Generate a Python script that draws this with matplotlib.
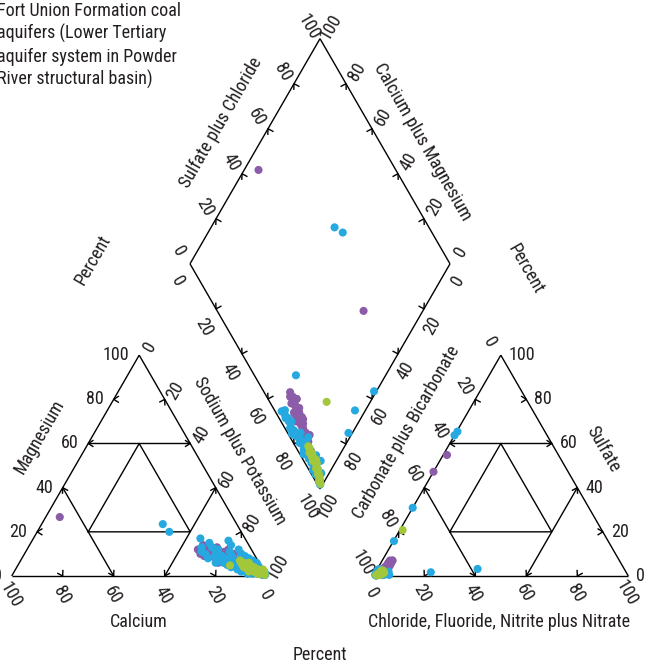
import matplotlib
matplotlib.use("Agg")
import matplotlib.pyplot as plt
import numpy as np
from matplotlib import font_manager

# ---------------------------------------------------------------- fonts
_available = {f.name for f in font_manager.fontManager.ttflist}
FONT = "Liberation Sans"
for fam in ["Liberation Sans Narrow", "Roboto Condensed", "Liberation Sans"]:
    if fam in _available:
        FONT = fam
        break
plt.rcParams["font.family"] = [FONT, "DejaVu Sans"]

# ---------------------------------------------------------------- data
# Milliequivalent percentages per sample: magnesium, sodium+potassium,
# sulfate, chloride(+fluoride+nitrite+nitrate). Calcium and carbonate+
# bicarbonate are the remainders to 100.
purple_mg = [26.7, 8.0,
             14, 13, 12, 11, 12, 10, 9, 11, 8, 9, 7, 10, 8, 6, 7, 9, 5, 6, 13,
             12, 10, 8, 7, 11, 9, 6, 5, 4, 10, 12, 13, 11, 9, 8, 7, 6]
purple_nak = [5.5, 77.2,
              68, 70, 71, 73, 75, 72, 74, 78, 76, 80, 79, 82, 83, 81, 85, 77,
              84, 87, 74, 79, 85, 86, 89, 76, 71, 78, 90, 88, 69, 67, 72, 70,
              75, 79, 82, 84]
purple_so4 = [47.2, 54.8,
              6, 5, 7, 4, 6, 5, 4, 5, 3, 4, 3, 4, 3, 4, 2, 5, 3, 2, 6, 4, 3, 2,
              2, 5, 7, 4, 2, 2, 6, 7, 5, 6, 4, 5, 3, 4]
purple_cl = [0.0, 1.5,
             3, 3, 4, 3, 3, 4, 3, 4, 3, 3, 4, 3, 3, 2.5, 3, 4, 3, 2.5, 4, 3, 3,
             3, 2.5, 3, 4, 3, 2.5, 3, 4, 3, 4, 3, 4, 3, 3, 4]

cyan_mg = [23.5, 20.0, 17.0, 0.5, 0.5, 1.5,
           15, 16, 13, 12, 14, 10, 11, 9, 12, 8, 10, 7, 9, 6, 8, 5, 7, 4, 6, 3,
           5, 2, 4, 3, 2, 1, 2, 1, 0.5, 1.5, 11, 13, 8, 6, 4, 3, 2, 9, 7, 5,
           10, 12, 9, 7, 5, 4, 3, 2, 1, 0.5, 6, 8, 3, 1, 2]
cyan_nak = [47.5, 51.8, 65.5, 99.1, 98.5, 96.0,
            70, 77, 72, 74, 79, 76, 80, 78, 83, 81, 85, 84, 87, 86, 89, 88, 91,
            90, 93, 92, 94, 93, 95, 96, 97, 96, 98, 99, 99, 97, 69, 68, 73, 80,
            84, 89, 91, 82, 87, 92,
            71, 75, 75, 78, 82, 86, 87, 89, 94, 98, 77, 79, 94, 92, 95]
cyan_so4 = [63.7, 65.4, 15.8, 3.2, 1.7, 30.9,
            2, 1, 3, 1, 2, 0.5, 1, 2, 1, 0.5, 1.5, 2, 1, 0.5, 1, 2, 0.5, 1,
            0.5, 1, 0.5, 2, 1, 0.5, 1, 0.5, 0.3, 0.5, 0.2, 1, 3, 2, 1, 2, 1,
            0.5, 1, 1.5, 0.5, 1,
            2, 1, 0.5, 1.5, 1, 0.5, 1, 2, 0.5, 0.3, 1, 2.5, 1, 0.5, 1]
cyan_cl = [0.0, 0.3, 0.2, 39.3, 21.7, 0.0,
           1, 2, 0.5, 3, 1, 2, 4, 1, 2, 3, 1, 5, 2, 1, 3, 1, 2, 4, 1, 2, 6, 1,
           2, 3, 1, 2, 1, 0.5, 1, 3, 1, 0.5, 2, 1, 4, 2, 5, 1, 3, 2,
           0.5, 1, 2, 0.5, 1.5, 1, 2, 0.5, 3, 1, 0.5, 1, 2, 4, 0.5]

green_mg = [4.8,
            7, 6, 5, 6, 4, 5, 3, 4, 2, 3, 1.5, 2, 1, 3, 4, 2, 1, 0.5, 5, 3, 6,
            4, 2, 1, 3]
green_nak = [83.2,
             86, 87, 88, 90, 89, 91, 91, 93, 92, 94, 95, 96, 97, 95, 92, 98,
             98, 99, 89, 93, 88, 90, 94, 96, 97]
green_so4 = [20.8,
             2, 1.5, 2.5, 1, 2, 1, 1.5, 2, 1, 1, 1.5, 0.5, 1, 1.5, 2, 0.5, 0.5,
             0.3, 2.5, 1, 2, 1.5, 1, 0.5, 1]
green_cl = [1.1,
            3, 3.5, 2, 3, 2.5, 3, 2, 2.5, 3, 2, 2, 2.5, 1.5, 2, 3, 1.5, 1,
            1, 2.5, 3, 2, 3, 2.5, 2, 1.5]

groups = [
    ("#8b5ca7", purple_mg, purple_nak, purple_so4, purple_cl),
    ("#25a9e0", cyan_mg, cyan_nak, cyan_so4, cyan_cl),
    ("#a3c73a", green_mg, green_nak, green_so4, green_cl),
]

tick_values = [0, 20, 40, 60, 80, 100]

# ---------------------------------------------------------------- layout
W, HPX = 653, 665
H = np.sqrt(3) / 2
S = 255.0            # side of the ternary triangles
BASE_Y = 576.0       # common base line of the triangles
LT_X0 = 11.7         # left corner of the cation triangle
RT_X0 = 373.3        # left corner of the anion triangle
D = 260.0            # side of the central diamond
DB = (320.0, 489.0)  # bottom vertex of the diamond


def lt(mg, nak):
    mg = np.asarray(mg, float) / 100
    nak = np.asarray(nak, float) / 100
    return LT_X0 + S * (nak + 0.5 * mg), BASE_Y - S * H * mg


def rt(so4, cl):
    so4 = np.asarray(so4, float) / 100
    cl = np.asarray(cl, float) / 100
    return RT_X0 + S * (cl + 0.5 * so4), BASE_Y - S * H * so4


def dm(camg, so4cl):
    u = np.asarray(camg, float) / 100
    v = np.asarray(so4cl, float) / 100
    return DB[0] + D * 0.5 * (v - u), DB[1] - D * H * (u + v)


fig = plt.figure(figsize=(W / 100, HPX / 100), dpi=100)
ax = fig.add_axes([0, 0, 1, 1])
ax.set_xlim(0, W)
ax.set_ylim(HPX, 0)
ax.axis("off")

LW = 1.0
FS = 13


def seg(p, q):
    ax.plot([p[0], q[0]], [p[1], q[1]], color="black", lw=LW,
            solid_capstyle="butt", zorder=1)


def chevron(tip, d, L=5.5, ang=32):
    d = np.asarray(d, float)
    d = d / np.hypot(*d)
    pts = []
    for a in (ang, -ang):
        r = np.radians(a)
        rd = np.array([d[0] * np.cos(r) - d[1] * np.sin(r),
                       d[0] * np.sin(r) + d[1] * np.cos(r)])
        pts.append(np.asarray(tip) - L * rd)
    ax.plot([pts[0][0], tip[0], pts[1][0]], [pts[0][1], tip[1], pts[1][1]],
            color="black", lw=LW, zorder=1)


def line_arrows(p, q):
    seg(p, q)
    p, q = np.asarray(p), np.asarray(q)
    chevron(q, q - p)
    chevron(p, p - q)


def txt(x, y, s, rot=0, ha="center", va="center", **kw):
    ax.text(x, y, s, rotation=rot, ha=ha, va=va, fontsize=FS,
            rotation_mode="anchor", color="#231f20", **kw)


# ---------------------------------------------------------------- cation triangle
A, B, C = lt(0, 0), lt(0, 100), lt(100, 0)
seg(A, B); seg(B, C); seg(C, A)
line_arrows(lt(60, 0), lt(60, 40))
line_arrows(lt(40, 0), lt(0, 40))
line_arrows(lt(40, 60), lt(0, 60))
inner = [lt(20, 20), lt(20, 60), lt(60, 20), lt(20, 20)]
ax.plot([p[0] for p in inner], [p[1] for p in inner], color="black", lw=LW, zorder=1)
for v in (20, 80):
    chevron(lt(v, 0), (-1, 0))
    chevron(lt(0, 100 - v), (0.5, H))
    chevron(lt(100 - v, v), (0.5, -H))

for v in tick_values:
    x, y = lt(v, 0)
    txt(x - 10, y, str(v), ha="right")
    x, y = lt(0, 100 - v)
    txt(x - 1, y + 19, str(v), rot=-60)
    x, y = lt(100 - v, v)
    txt(x + 11, y - 9, str(v), rot=60)

# ---------------------------------------------------------------- anion triangle
A, B, C = rt(0, 0), rt(0, 100), rt(100, 0)
seg(A, B); seg(B, C); seg(C, A)
line_arrows(rt(60, 0), rt(60, 40))
line_arrows(rt(40, 0), rt(0, 40))
line_arrows(rt(40, 60), rt(0, 60))
inner = [rt(20, 20), rt(20, 60), rt(60, 20), rt(20, 20)]
ax.plot([p[0] for p in inner], [p[1] for p in inner], color="black", lw=LW, zorder=1)
for v in (20, 80):
    chevron(rt(v, 100 - v), (1, 0))
    chevron(rt(0, v), (-0.5, H))
    chevron(rt(100 - v, 0), (-0.5, -H))

for v in tick_values:
    x, y = rt(v, 100 - v)
    txt(x + 8, y, str(v), ha="left")
    x, y = rt(0, v)
    txt(x - 2, y + 17, str(v), rot=-60)
    x, y = rt(100 - v, 0)
    txt(x - 11, y - 13, str(v), rot=-60)

# ---------------------------------------------------------------- diamond
L_, T_, R_, B_ = dm(100, 0), dm(100, 100), dm(0, 100), dm(0, 0)
for p, q in ((L_, T_), (T_, R_), (R_, B_), (B_, L_)):
    seg(p, q)
for v in (20, 40, 60, 80):
    chevron(dm(100, v), (-0.5, -H))
    chevron(dm(v, 100), (0.5, -H))
    chevron(dm(100 - v, 0), (-0.5, H))
    chevron(dm(0, 100 - v), (0.5, H))

for v in tick_values:
    x, y = dm(100, v)
    txt(x - 11, y - 12, str(v), rot=-60)
    x, y = dm(v, 100)
    txt(x + 11, y - 12, str(v), rot=60)
    x, y = dm(100 - v, 0)
    txt(x - 12, y + 18, str(v), rot=-60)
    x, y = dm(0, 100 - v)
    txt(x + 8, y + 17, str(v), rot=60)

# ---------------------------------------------------------------- samples
for color, mg, nak, so4, cl in groups:
    mg, nak = np.asarray(mg, float), np.asarray(nak, float)
    so4, cl = np.asarray(so4, float), np.asarray(cl, float)
    kw = dict(s=34, color=color, edgecolors="none", zorder=3)
    ax.scatter(*lt(mg, nak), **kw)
    ax.scatter(*rt(so4, cl), **kw)
    ax.scatter(*dm(100 - nak, so4 + cl), **kw)

# ---------------------------------------------------------------- titles
txt(40, 437, "Magnesium", rot=60)
txt(240, 451, "Sodium plus Potassium", rot=-60)
txt(139, 622, "Calcium")
txt(406, 432, "Carbonate plus Bicarbonate", rot=60)
txt(603, 449, "Sulfate", rot=-60)
txt(499, 622, "Chloride, Fluoride, Nitrite plus Nitrate")
txt(221, 123, "Sulfate plus Chloride", rot=60)
txt(422, 142, "Calcium plus Magnesium", rot=-60)
txt(93, 260, "Percent", rot=60)
txt(526, 269, "Percent", rot=-60)
txt(320, 655, "Percent")

caption = ["Fort Union Formation coal",
           "aquifers (Lower Tertiary",
           "aquifer system in Powder",
           "River structural basin)"]
for i, line in enumerate(caption):
    txt(-3, 16 + 23 * i, line, ha="left", va="baseline")

fig.savefig("out.png", dpi=100)
